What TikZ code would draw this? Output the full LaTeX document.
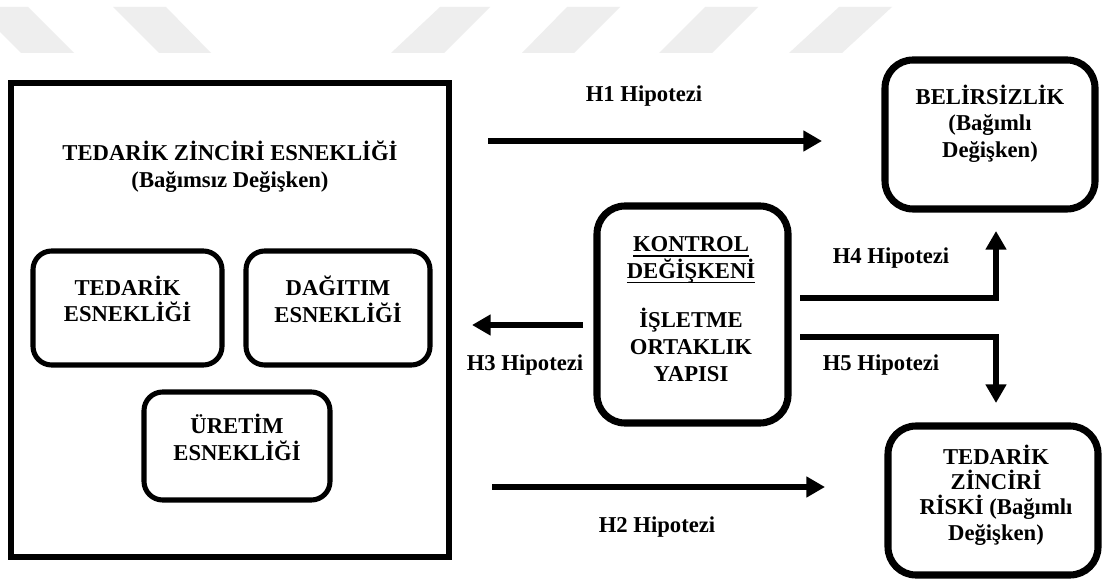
\documentclass[tikz,border=0pt]{standalone}
\usepackage{fontspec}
\setmainfont{Liberation Serif}
\usetikzlibrary{arrows.meta,fit}
\definecolor{stripe}{HTML}{EEEEEE}
% underlined word: rule a fixed distance under the baseline
\newcommand\ulword[1]{\vtop{\hbox{\raisebox{0pt}[\height][0pt]{#1}}\kern2.4pt\hrule height 1.4pt}}
% bold label type with a fixed line pitch
\newcommand\labfont[1]{\fontsize{17}{#1}\selectfont\bfseries\lineskiplimit=-10pt\relax}
\begin{document}
\begin{tikzpicture}[x=0.75pt,y=-0.75pt,
  txt/.style={font=\labfont{20}, align=center, inner sep=0pt},
  frame/.style={draw, line width=4.5pt, inner sep=0pt},
  subbox/.style={draw, line width=3.8pt, rounded corners=14pt, inner sep=0pt},
  mainbox/.style={draw, line width=5.3pt, rounded corners=21pt, inner sep=0pt},
  arr/.style={line width=4.5pt, line join=miter, -{Triangle[length=14pt,width=15pt]}}]

\useasboundingbox[fill=white] (0,0) rectangle (1105,580);

% light stripes along the top edge
\fill[stripe] (-25,7) -- (28,7) -- (74,53) -- (21,53) -- cycle;
\fill[stripe] (113,7) -- (166,7) -- (211,53) -- (159,53) -- cycle;
\fill[stripe] (440,7) -- (490,7) -- (444,53) -- (391,53) -- cycle;
\fill[stripe] (567,7) -- (620,7) -- (574,53) -- (522,53) -- cycle;
\fill[stripe] (705,7) -- (758,7) -- (712,53) -- (659,53) -- cycle;
\fill[stripe] (839,7) -- (892,7) -- (842,53) -- (789,53) -- cycle;

% independent variable block
\node[frame, fit={(11,83) (449,557)}] (flex) {};
\node[txt] (flexT) at (230,166.5) {TEDARİK ZİNCİRİ ESNEKLİĞİ\\(Bağımsız Değişken)};

\node[subbox, fit={(33,251) (222,365)}] (sup) {};
\node[txt] (supT) at (127.5,299) {TEDARİK\\ESNEKLİĞİ};
\node[subbox, fit={(246,251) (430,365)}] (dist) {};
\node[txt] (distT) at (338,299) {DAĞITIM\\ESNEKLİĞİ};
\node[subbox, fit={(144,392) (330,500)}] (prod) {};
\node[txt] (prodT) at (237,437.5) {ÜRETİM\\ESNEKLİĞİ};

% control variable
\node[mainbox, fit={(597,206) (788,423)}] (ctrl) {};
\node[txt] (ctrlT) at (691,309) {\ulword{KONTROL}\\\ulword{DEĞİŞKENİ}\\[17pt]İŞLETME\\ORTAKLIK\\YAPISI};

% dependent variables
\node[mainbox, fit={(885,60) (1095,209)}] (unc) {};
\node[txt] (uncT) at (990,123.5) {BELİRSİZLİK\\(Bağımlı\\Değişken)};
\node[mainbox, fit={(888,426) (1098,575)}] (risk) {};
\node[txt, font=\labfont{19}] (riskT) at (996,495) {TEDARİK\\ZİNCİRİ\\RİSKİ (Bağımlı\\Değişken)};

% arrow end points
\coordinate (h1s) at (488,141);
\coordinate (h1e) at (822,141);
\coordinate (h2s) at (492,487);
\coordinate (h2e) at (825,487);
\coordinate (h3s) at (583,325);
\coordinate (h3e) at (472,325);
\coordinate (h4s) at (800,298);
\coordinate (h4e) at (996,231);
\coordinate (h5s) at (800,337);
\coordinate (h5e) at (996,403);

\draw[arr] (h1s) -- (h1e);
\draw[arr] (h2s) -- (h2e);
\draw[arr] (h3s) -- (h3e);
\draw[arr] (h4s) -| (h4e);
\draw[arr] (h5s) -| (h5e);

% hypothesis labels
\node[txt] (h1) at (644,96) {H1 Hipotezi};
\node[txt] (h2) at (657,527) {H2 Hipotezi};
\node[txt] (h3) at (525,365) {H3 Hipotezi};
\node[txt] (h4) at (891,258) {H4 Hipotezi};
\node[txt] (h5) at (881,365) {H5 Hipotezi};
\end{tikzpicture}
\end{document}
